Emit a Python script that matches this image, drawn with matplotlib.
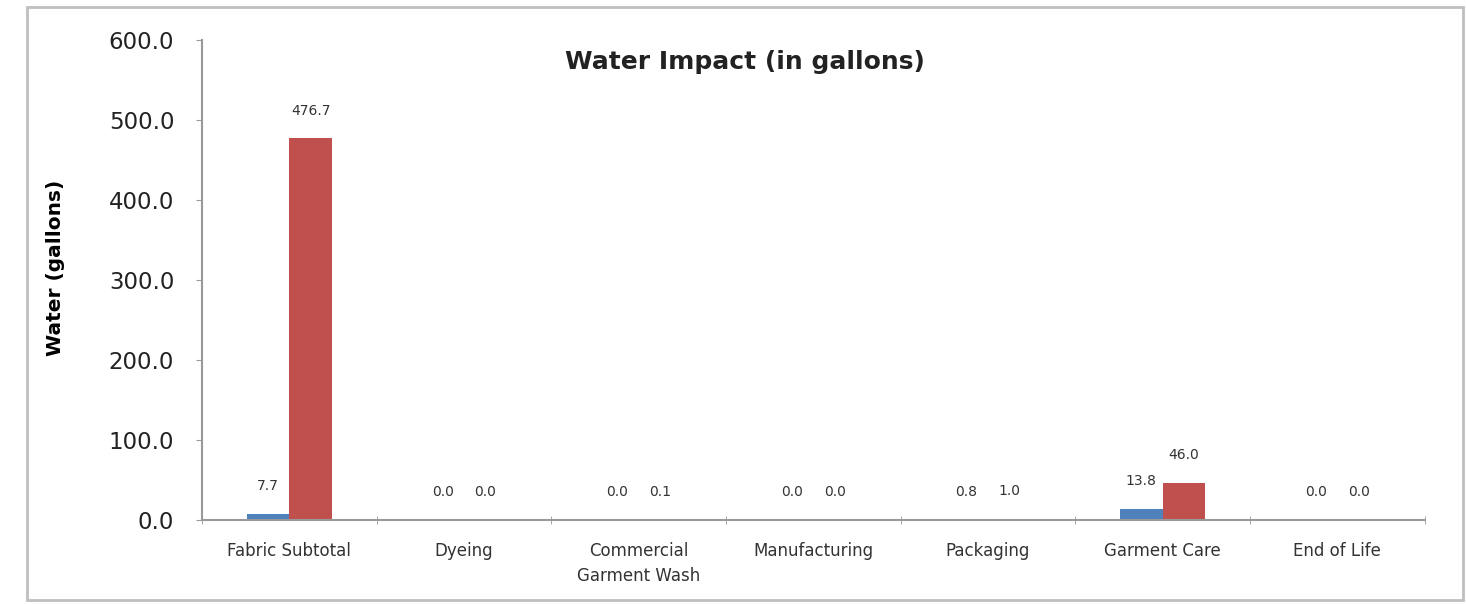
import matplotlib.pyplot as plt
import matplotlib.patches as mpatches
import numpy as np

# ============================================================
# Data
# ============================================================
categories = ["Fabric Subtotal", "Dyeing", "Commercial\nGarment Wash", "Manufacturing",
              "Packaging", "Garment Care", "End of Life"]
series_a = [7.7, 0.0, 0.0, 0.0, 0.8, 13.8, 0.0]
series_b = [476.7, 0.0, 0.1, 0.0, 1.0, 46.0, 0.0]
y_ticks = [0, 100, 200, 300, 400, 500, 600]

BLUE = "#4F81BD"
RED = "#C0504D"

plt.rcParams["font.family"] = ["DejaVu Sans"]

fig = plt.figure(figsize=(14.66, 6.05), dpi=100)
ax = fig.add_axes([0.1378, 0.1405, 0.834, 0.794])

# outer chart border
fig.patches.append(mpatches.Rectangle((27 / 1466, 5 / 605), 1436 / 1466, 593 / 605,
                                      transform=fig.transFigure, fill=False,
                                      edgecolor="#BFBFBF", linewidth=2))

x = np.arange(len(categories))
w = 0.245
bars_a = ax.bar(x - w / 2, series_a, w, color=BLUE)
bars_b = ax.bar(x + w / 2, series_b, w, color=RED)

for bars in (bars_a, bars_b):
    for b in bars:
        ax.annotate(f"{b.get_height():.1f}", (b.get_x() + b.get_width() / 2, b.get_height()),
                    xytext=(0, 15), textcoords="offset points", ha="center", va="bottom",
                    fontsize=10, color="#333333")

ax.set_xlim(-0.5, len(categories) - 0.5)
ax.set_ylim(0, 600)
ax.set_yticks(y_ticks)
ax.set_yticklabels([f"{v:.1f}" for v in y_ticks], fontsize=16.5, color="#222222")
ax.set_xticks(x)
ax.set_xticklabels(categories, fontsize=12, color="#333333", linespacing=1.45)
ax.tick_params(axis="x", length=0, pad=16)
ax.set_xticks(np.arange(-0.5, len(categories)), minor=True)
ax.tick_params(axis="x", which="minor", length=6, direction="inout", color="#999999")
ax.tick_params(axis="y", length=4, color="#999999", pad=16)

for s in ("top", "right"):
    ax.spines[s].set_visible(False)
ax.spines["left"].set_color("#999999")
ax.spines["bottom"].set_color("#999999")
ax.spines["left"].set_linewidth(1.5)
ax.spines["bottom"].set_linewidth(1.5)

ax.set_ylabel("Water (gallons)", fontsize=14.5, fontweight="bold")
ax.yaxis.set_label_coords(-0.112, 0.525)
fig.text(745 / 1466, 1 - 62 / 605, "Water Impact (in gallons)", fontsize=18,
         fontweight="bold", ha="center", va="center", color="#222222")

plt.savefig("out.png", dpi=100)
